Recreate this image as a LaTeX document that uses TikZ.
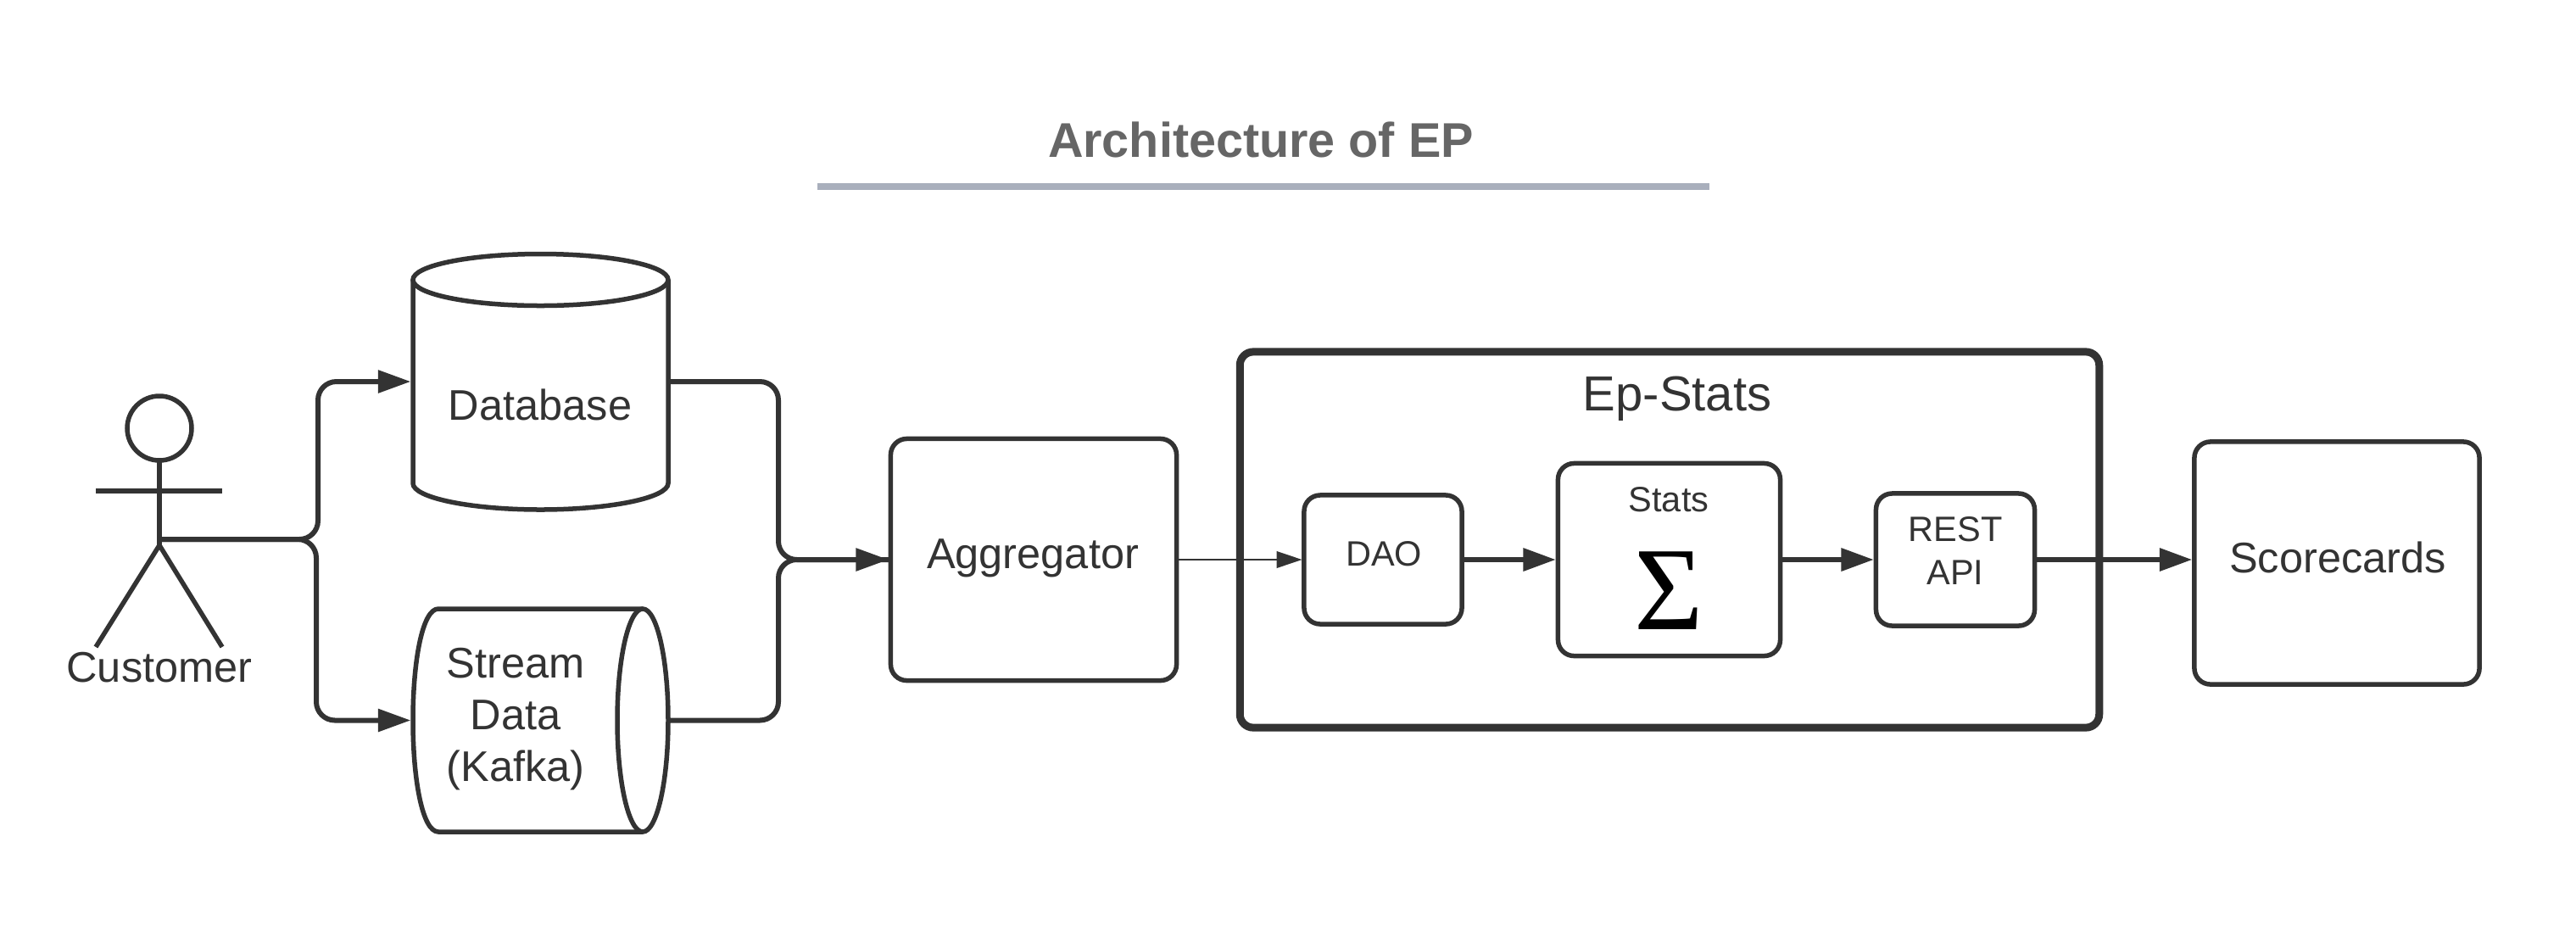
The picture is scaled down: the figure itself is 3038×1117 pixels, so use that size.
\documentclass[tikz,border=0pt]{standalone}
\usepackage{fontspec}
\setmainfont{Liberation Sans}
\newfontfamily\sigmafont{Liberation Serif}
\usetikzlibrary{arrows.meta}
\definecolor{ink}{HTML}{333333}
\definecolor{titlegrey}{HTML}{666666}
\definecolor{rulegrey}{HTML}{A9AFBC}
\newdimen\fszA
\newdimen\fszB
\newcommand{\fpx}[2]{\fszA=#1pt \fszA=0.2845\fszA \fszB=#2pt \fszB=0.2845\fszB \fontsize{\the\fszA}{\the\fszB}\selectfont}
\tikzset{
  x=0.01cm,y=-0.01cm,
  lw/.style={line width=#1*0.2845pt},
  base/.style={draw=ink,lw=5.5,rounded corners=5.4pt,inner sep=0pt,outer sep=0pt,fill=white},
  txt/.style={text=ink,inner sep=0pt,outer sep=0pt,align=center},
  line/.style={draw=ink,lw=6,rounded corners=6.2pt,line cap=butt},
  big/.style={-{Triangle[length=11pt,width=7.4pt,fill=ink]},shorten >=0.7pt},
  thin/.style={draw=ink,lw=1.6,-{Triangle[length=8.5pt,width=5.6pt,fill=ink]},shorten >=0.7pt},
  pipe/.style={draw=ink,lw=6.5,big},
}
\begin{document}
\begin{tikzpicture}
\useasboundingbox (0,0) rectangle (3038,1117);
% title
\node[txt,text=titlegrey,font=\bfseries\fpx{57.5}{66}] (title) at (1487,165) {Architecture of EP};
\coordinate (ruleL) at (964,220);
\coordinate (ruleR) at (2016,220);
\draw[rulegrey,lw=8] (ruleL) -- (ruleR);

% actor
\draw[ink,lw=5.5] (188,505) circle [x radius=38,y radius=38];
\coordinate (neck) at (188,543);
\coordinate (hip) at (188,643);
\coordinate (armL) at (113,579);
\coordinate (armR) at (262,579);
\coordinate (footL) at (113,763);
\coordinate (footR) at (262,763);
\draw[ink,lw=5.5] (neck) -- (hip);
\draw[ink,lw=5.5] (armL) -- (armR);
\draw[ink,lw=5.5,line join=round] (footL) -- (hip) -- (footR);
\node[txt,font=\fpx{50.5}{60}] (customer) at (188,787) {Customer};

% database cylinder
\node[inner sep=0pt,outer sep=0pt,minimum width=301*0.2845pt,minimum height=302*0.2845pt] (db) at (637.5,450) {};
\draw[ink,lw=5.5,fill=white] (487,330) -- (487,570) .. controls (487,587) and (555,601) .. (637.5,601) .. controls (720,601) and (788,587) .. (788,570) -- (788,330);
\draw[ink,lw=5.5,fill=white] (637.5,330) circle [x radius=150.5,y radius=30.5];
\node[txt,font=\fpx{50.5}{60}] (dblabel) at (637,477) {Database};

% stream cylinder
\node[inner sep=0pt,outer sep=0pt,minimum width=301*0.2845pt,minimum height=263*0.2845pt] (stream) at (637.5,849.5) {};
\draw[ink,lw=5.5,fill=white] (758,718) -- (517,718) .. controls (498,718) and (487,780) .. (487,849.5) .. controls (487,919) and (498,981) .. (517,981) -- (758,981);
\draw[ink,lw=5.5,fill=white] (758,849.5) circle [x radius=30,y radius=131.5];
\node[txt,font=\fpx{50.5}{61}] (streamlabel) at (608,848) {Stream\\Data\\(Kafka)};

% boxes
\node[base,minimum width=337*0.2845pt,minimum height=285*0.2845pt] (agg) at (1219,660) {};
\node[txt,font=\fpx{50.5}{60}] (agglabel) at (1218,658) {Aggregator};
\node[base,lw=9,minimum width=1013*0.2845pt,minimum height=443*0.2845pt,rounded corners=4.5pt] (epstats) at (1969,636.5) {};
\node[txt,font=\fpx{58}{66}] (eplabel) at (1978,470) {Ep-Stats};
\node[base,minimum width=186*0.2845pt,minimum height=152*0.2845pt] (dao) at (1631,660) {};
\node[txt,font=\fpx{41.5}{50}] (daolabel) at (1632,653) {DAO};
\node[base,minimum width=262*0.2845pt,minimum height=227*0.2845pt] (stats) at (1968.5,660) {};
\node[txt,font=\fpx{41.5}{50}] (statslabel) at (1968,589) {Stats};
\node[inner sep=0pt,outer sep=0pt,text=black,font=\sigmafont\fpx{140}{140}] (sigma) at (1968.5,697) {Σ};
\node[base,minimum width=187*0.2845pt,minimum height=156*0.2845pt] (rest) at (2306,660) {};
\node[txt,font=\fpx{41.5}{51}] (restlabel) at (2306,649.5) {REST\\API};
\node[base,minimum width=336*0.2845pt,minimum height=286*0.2845pt] (score) at (2756,664) {};
\node[txt,font=\fpx{50.5}{60}] (scorelabel) at (2757,657) {Scorecards};

% connectors customer -> stores
\coordinate (busA) at (375,636);
\coordinate (busB) at (373,636);
\coordinate (hipOut) at (hip |- busA);
\draw[line,big] (hipOut) -- (busA) -- (375,450) -- (db.west);
\draw[line,big] (hipOut) -- (busB) -- (373,849.5) -- (stream.west);
% stores -> aggregator
\coordinate (merge) at (918,660);
\draw[line] (db.east) -- (918,450) -- (merge) -- (agg.west);
\draw[line,big] (stream.east) -- (918,849.5) -- (merge) -- (agg.west);
% pipeline
\draw[thin] (agg.east) -- (dao.west);
\draw[pipe] (dao.east) -- (stats.west);
\draw[pipe] (stats.east) -- (rest.west);
\draw[pipe] (rest.east) -- (score.west |- rest.east);
\end{tikzpicture}
\end{document}
